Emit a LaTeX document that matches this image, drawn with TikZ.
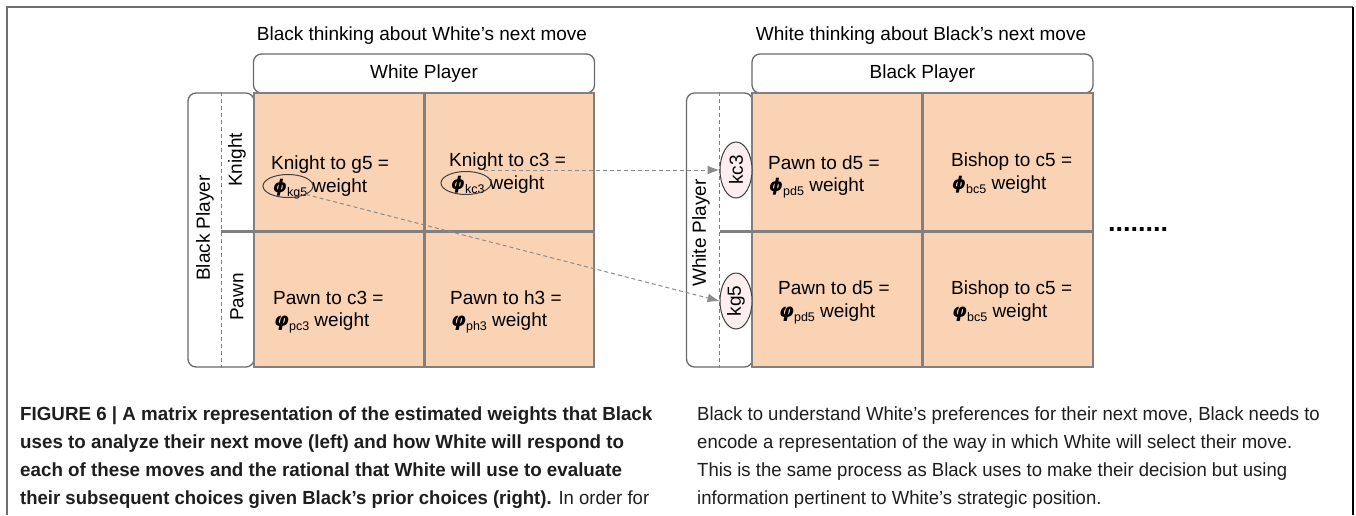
\documentclass[tikz,border=0pt]{standalone}
\usepackage{fontspec}
\setmainfont{Liberation Sans}
\newfontfamily\grk{DejaVu Sans}
\newfontfamily\capfont[FakeStretch=0.975]{Liberation Sans}
\newfontfamily\capbfont[FakeStretch=0.988]{Liberation Sans}
\usetikzlibrary{shapes.geometric,arrows.meta,calc}
\definecolor{peach}{RGB}{250,210,180}
\definecolor{gridgray}{RGB}{128,128,128}
\definecolor{boxgray}{RGB}{105,105,105}
\definecolor{dashgray}{RGB}{140,140,140}
\definecolor{framegray}{RGB}{110,110,110}
\definecolor{pinkfill}{RGB}{252,238,238}
\definecolor{captxt}{RGB}{30,30,30}
\newcommand\subs[1]{\raisebox{-4pt}{\fontsize{12.5}{13}\selectfont #1}}
\newcommand\phiB{{\grk\bfseries\itshape\fontsize{17.5}{20}\selectfont ϕ}}
\newcommand\varphiB{{\grk\bfseries\itshape φ}}
\begin{document}
\begin{tikzpicture}[x=1pt,y=-1pt,
  ttlstyle/.style={font=\fontsize{19}{22}\selectfont, inner sep=0, anchor=base},
  hdrbox/.style={draw=boxgray, line width=1.3pt, rounded corners=8pt, fill=white,
     minimum width=341pt, minimum height=39pt, inner sep=0, font=\fontsize{19}{22}\selectfont},
  sidebox/.style={draw=boxgray, line width=1.3pt, rounded corners=8pt, fill=white,
     minimum width=66pt, minimum height=274pt, inner sep=0},
  cellbox/.style={fill=peach, minimum width=170pt, inner sep=0, draw=none},
  gridln/.style={draw=gridgray, line width=3pt},
  outln/.style={draw=gridgray, line width=1.5pt},
  dashln/.style={draw=gridgray, line width=1pt, dash pattern=on 4pt off 3pt},
  txtstyle/.style={font=\fontsize{19}{22}\selectfont, inner sep=0, anchor=base west},
  rotstyle/.style={font=\fontsize{19}{22}\selectfont, inner sep=0, rotate=90},
  phiell/.style={ellipse, draw=black!75, line width=1pt, minimum width=50pt, minimum height=23pt, inner sep=0},
  sidell/.style={ellipse, draw=black!75, line width=1pt, fill=pinkfill, rotate=90,
     minimum width=56pt, minimum height=32pt, inner sep=0, font=\fontsize{19}{22}\selectfont},
  connstyle/.style={draw=dashgray, line width=1pt, dash pattern=on 4pt off 3pt,
     -{Latex[length=12pt,width=9pt]}},
  captext/.style={font=\capfont\fontsize{19}{22}\selectfont, inner sep=0, anchor=base west, text=captxt},
  capbold/.style={captext, font=\capbfont\fontsize{19}{22}\selectfont\bfseries}
]
\useasboundingbox (0,0) rectangle (1356,515);
\fill[white] (0,0) rectangle (1356,515);
% frame
\coordinate (fbl) at (7,515);
\coordinate (ftl) at (7,7);
\coordinate (ftr) at (1353,7);
\coordinate (fbr) at (1353,515);
\draw[framegray, line width=2pt] (fbl) -- (ftl) -- (ftr);
\draw[black, line width=1.2pt] (ftr) -- (fbr);

% ================= LEFT MATRIX =================
\node[ttlstyle] (tL) at (422,40) {Black thinking about White’s next move};
\node[hdrbox] (hL) at (424,73.5) {White Player};
\node[sidebox] (sL) at (221,230) {};
\node[cellbox, minimum height=138pt] (LTL) at (339,162) {};
\node[cellbox, minimum height=138pt] (LTR) at (509,162) {};
\node[cellbox, minimum height=136pt] (LBL) at (339,299) {};
\node[cellbox, minimum height=136pt] (LBR) at (509,299) {};
\draw[dashln] (sL.north) -- (sL.south);
\draw[outln] (LTL.north west) rectangle (LBR.south east);
\draw[gridln] (LTL.north east) -- (LBL.south east);
\draw[gridln] (sL.center |- LTL.south) -- (LTR.south east);
\node[rotstyle] (bpL) at (205,228) {Black Player};
\node[rotstyle] (knL) at (237,160) {Knight};
\node[rotstyle] (pwL) at (237,297) {Pawn};

% cell texts
\node[txtstyle] (a1) at (271,169) {Knight to g5 =};
\node[txtstyle] (a2) at (273,192) {\phiB\subs{kg5}\hspace{5pt}weight};
\node[phiell] (phkg5) at (288,186) {};
\node[txtstyle] (b1) at (449,166) {Knight to c3 =};
\node[txtstyle] (b2) at (451,189) {\phiB\subs{kc3}\hspace{5pt}weight};
\node[phiell] (phkc3) at (466,183) {};
\node[txtstyle] (c1) at (273,304) {Pawn to c3 =};
\node[txtstyle] (c2) at (274,326) {\varphiB\subs{pc3} weight};
\node[txtstyle] (d1) at (450,304) {Pawn to h3 =};
\node[txtstyle] (d2) at (451,326) {\varphiB\subs{ph3} weight};

% ================= RIGHT MATRIX =================
\node[ttlstyle] (tR) at (921,40) {White thinking about Black’s next move};
\node[hdrbox] (hR) at (922.5,73.5) {Black Player};
\node[sidebox] (sR) at (719.5,230) {};
\node[cellbox, minimum height=138pt] (RTL) at (837,162) {};
\node[cellbox, minimum height=138pt] (RTR) at (1008,162) {};
\node[cellbox, minimum height=136pt] (RBL) at (837,299) {};
\node[cellbox, minimum height=136pt] (RBR) at (1008,299) {};
\draw[dashln] (sR.north) -- (sR.south);
\draw[outln] (RTL.north west) rectangle (RBR.south east);
\draw[gridln] (RTL.north east) -- (RBL.south east);
\draw[gridln] (sR.center |- RTL.south) -- (RTR.south east);
\node[rotstyle] (wpR) at (701,233) {White Player};
\node[sidell] (kc3) at (736,170) {kc3};
\node[sidell] (kg5) at (736,301) {kg5};

\node[txtstyle] (e1) at (768,169) {Pawn to d5 =};
\node[txtstyle] (e2) at (769,191) {\phiB\subs{pd5} weight};
\node[txtstyle] (f1) at (951,166) {Bishop to c5 =};
\node[txtstyle] (f2) at (952,189) {\phiB\subs{bc5} weight};
\node[txtstyle] (g1) at (778,294) {Pawn to d5 =};
\node[txtstyle] (g2) at (779,317) {\varphiB\subs{pd5} weight};
\node[txtstyle] (h1) at (951,294) {Bishop to c5 =};
\node[txtstyle] (h2) at (952,317) {\varphiB\subs{bc5} weight};

\node[font=\fontsize{27}{27}\selectfont\bfseries, inner sep=0] (dots) at (1138,229) {........};

% connectors
\draw[connstyle] (phkc3.north east |- kc3.north) -- (kc3.north);
\draw[connstyle] (phkg5.south east) -- (kg5.north);

% ================= CAPTION =================
\node[capbold] (cap1) at (20,420) {FIGURE 6 | A matrix representation of the estimated weights that Black};
\node[capbold] (cap2) at (20,448) {uses to analyze their next move (left) and how White will respond to};
\node[capbold] (cap3) at (20,476) {each of these moves and the rational that White will use to evaluate};
\node[captext] (cap4) at (20,504) {{\bfseries their subsequent choices given Black’s prior choices (right).} In order for};
\node[captext] (cap5) at (697,420) {Black to understand White’s preferences for their next move, Black needs to};
\node[captext] (cap6) at (697,448) {encode a representation of the way in which White will select their move.};
\node[captext] (cap7) at (697,476) {This is the same process as Black uses to make their decision but using};
\node[captext] (cap8) at (697,504) {information pertinent to White’s strategic position.};
\end{tikzpicture}
\end{document}
